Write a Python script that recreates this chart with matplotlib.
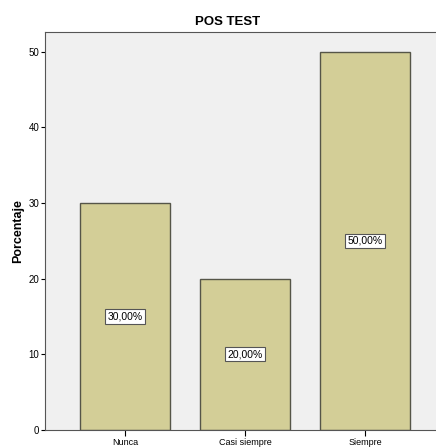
import matplotlib
matplotlib.use("Agg")
import matplotlib.pyplot as plt
from matplotlib import font_manager

categories = ["Nunca", "Casi siempre", "Siempre"]
values = [30, 20, 50]
labels = ["30,00%", "20,00%", "50,00%"]
yticks = [0, 10, 20, 30, 40, 50]

names = {f.name for f in font_manager.fontManager.ttflist}
fam = ["Liberation Sans Narrow"] if "Liberation Sans Narrow" in names else ["Liberation Sans"]
plt.rcParams['font.family'] = fam + ["DejaVu Sans"]

W, H = 436, 447
fig = plt.figure(figsize=(W/100, H/100), dpi=100)
fig.patch.set_facecolor("white")
left, right, top, bottom = 45, 445, 32, 430
ax = fig.add_axes([left/W, 1 - bottom/H, (right-left)/W, (bottom-top)/H])
ax.set_facecolor("#F0F0F0")

x = list(range(len(categories)))
ax.bar(x, values, width=0.75, color="#D3CE97", edgecolor="#555548", linewidth=1.0, zorder=2)
for xi, v, lab in zip(x, values, labels):
    ax.text(xi, v/2, lab, ha="center", va="center", fontsize=7.5, zorder=3,
            bbox=dict(boxstyle="square,pad=0.2", fc="white", ec="#555555", lw=0.8))

ax.set_xlim(-0.667, 2.667)
ax.set_ylim(0, 52.6)
ax.set_xticks(x)
ax.set_xticklabels(categories, fontsize=6.5)
ax.set_yticks(yticks)
ax.set_yticklabels([str(t) for t in yticks], fontsize=7)
ax.tick_params(axis="y", length=3, width=0.8, pad=1)
ax.tick_params(axis="x", length=4, width=0.8, pad=2)
for s in ax.spines.values():
    s.set_color("#555555")
    s.set_linewidth(0.8)

ax.set_ylabel("Porcentaje", fontsize=9, fontweight="bold", labelpad=3,
              family=["Liberation Sans", "DejaVu Sans"])
fig.text(228/W, 1 - 22/H, "POS TEST", ha="center", va="center",
         fontsize=9.5, fontweight="bold")

fig.savefig("out.png", dpi=100)
